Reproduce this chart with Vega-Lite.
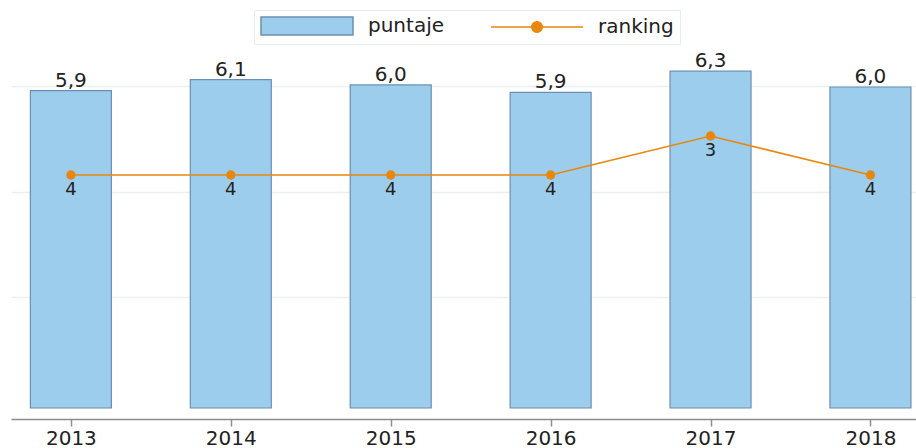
{
  "$schema": "https://vega.github.io/schema/vega-lite/v6.json",
  "autosize": "none",
  "width": 905,
  "height": 368,
  "padding": {"left": 11, "top": 40, "right": 0, "bottom": 40},
  "background": "white",
  "config": {
    "view": {"stroke": null},
    "locale": {"number": {"decimal": ",", "thousands": ".", "grouping": [3], "currency": ["", "€"]}},
    "font": "DejaVu Sans",
    "legend": {
      "title": null,
      "orient": "none",
      "direction": "horizontal",
      "legendX": 243,
      "legendY": -30,
      "strokeColor": "#e6edf0",
      "fillColor": "white",
      "padding": 6,
      "symbolSize": 324,
      "symbolStrokeWidth": 1.5,
      "symbolOpacity": 1,
      "labelFontSize": 20,
      "labelColor": "#222222",
      "labelOffset": 88,
      "columnPadding": 43
    }
  },
  "datasets": {
    "main": [
      {"year": 2013, "puntaje": 5.92, "ranking": 4},
      {"year": 2014, "puntaje": 6.13, "ranking": 4},
      {"year": 2015, "puntaje": 6.03, "ranking": 4},
      {"year": 2016, "puntaje": 5.89, "ranking": 4},
      {"year": 2017, "puntaje": 6.29, "ranking": 3},
      {"year": 2018, "puntaje": 5.99, "ranking": 4}
    ],
    "leyenda": [
      {"serie": "puntaje"},
      {"serie": "ranking"}
    ]
  },
  "layer": [
    {
      "data": {"name": "main"},
      "encoding": {
        "x": {
          "field": "year",
          "type": "quantitative",
          "scale": {"domain": [2012.6568, 2018.2536], "nice": false, "zero": false},
          "axis": {
            "values": [2013, 2014, 2015, 2016, 2017, 2018],
            "format": "d",
            "title": null,
            "grid": false,
            "offset": 11,
            "domainColor": "#8c8c8c",
            "domainWidth": 1.5,
            "tickColor": "#8c8c8c",
            "tickSize": 7,
            "tickWidth": 1.5,
            "labelFontSize": 20,
            "labelColor": "#222222",
            "labelPadding": 2,
            "labelFlush": false
          }
        }
      },
      "layer": [
        {
          "encoding": {
            "y": {
              "field": "puntaje",
              "type": "quantitative",
              "scale": {"domain": [-0.095, 6.881], "nice": false, "zero": false},
              "axis": {
                "values": [2, 4, 6],
                "title": null,
                "labels": false,
                "ticks": false,
                "domain": false,
                "grid": true,
                "gridColor": "#e9f0f0",
                "gridWidth": 1.5
              }
            }
          },
          "layer": [
            {
              "mark": {"type": "bar", "size": 81, "fill": "#9dcdec", "stroke": "#6b8fb0", "strokeWidth": 1.2},
              "encoding": {"y2": {"datum": -0.095}}
            },
            {
              "mark": {"type": "text", "baseline": "bottom", "fontSize": 20, "color": "#222222"},
              "encoding": {
                "text": {"field": "puntaje", "type": "quantitative", "format": ".1f"}
              }
            }
          ]
        },
        {
          "encoding": {
            "y": {
              "field": "ranking",
              "type": "quantitative",
              "scale": {"domain": [0.538, 9.974], "reverse": true, "nice": false, "zero": false},
              "axis": null
            }
          },
          "layer": [
            {
              "mark": {"type": "line", "color": "#e8870e", "strokeWidth": 1.6, "point": {"filled": true, "size": 88, "opacity": 1, "color": "#e8870e"}}
            },
            {
              "mark": {"type": "text", "baseline": "top", "fontSize": 18, "color": "#222222", "dy": 6},
              "encoding": {
                "text": {"field": "ranking", "type": "quantitative", "format": "d"}
              }
            }
          ]
        }
      ],
      "resolve": {"scale": {"y": "independent"}}
    },
    {
      "data": {"name": "leyenda"},
      "mark": {"type": "point", "filled": true, "opacity": 0},
      "encoding": {
        "fill": {
          "field": "serie",
          "type": "nominal",
          "scale": {"domain": ["puntaje", "ranking"], "range": ["#9dcdec", "#e8870e"]}
        },
        "stroke": {
          "field": "serie",
          "type": "nominal",
          "scale": {"domain": ["puntaje", "ranking"], "range": ["#6b8fb0", "#e8870e"]}
        },
        "shape": {
          "field": "serie",
          "type": "nominal",
          "scale": {
            "domain": ["puntaje", "ranking"],
            "range": [
              "M-1,-1L9.222,-1L9.222,1L-1,1Z",
              "M-1,0L9.222,0M4.7,0A0.59,0.59,0,1,1,3.52,0A0.59,0.59,0,1,1,4.7,0Z"
            ]
          }
        }
      }
    }
  ],
  "resolve": {"scale": {"y": "independent"}}
}
